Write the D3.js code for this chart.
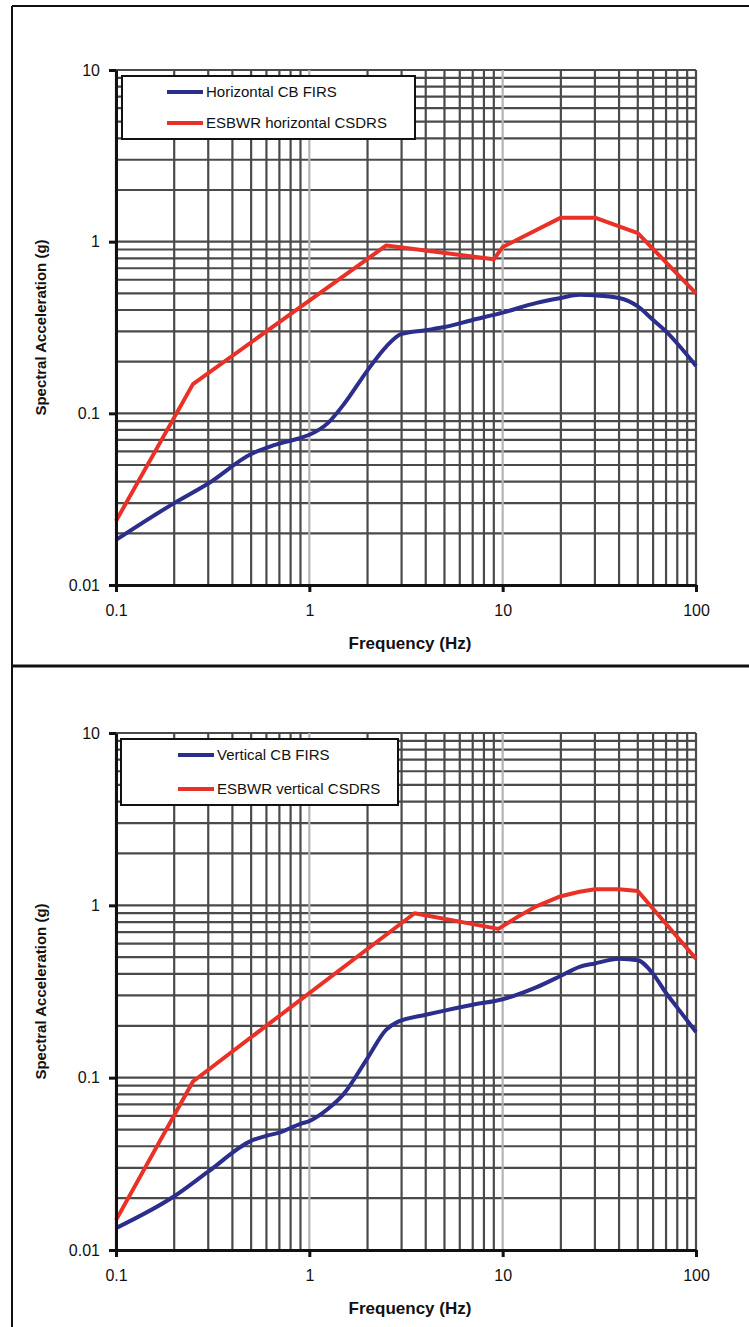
<!DOCTYPE html>
<html>
<head>
<meta charset="utf-8">
<script src="https://cdn.jsdelivr.net/npm/d3@7"></script>
<style>
  html, body { margin: 0; padding: 0; background: #fff; }
  svg { display: block; }
  text { font-family: "Liberation Sans", Arial, sans-serif; fill: #111; }
</style>
</head>
<body>
<svg id="chart" width="749" height="1327"></svg>
<script>
// Axis ticks
const freqTicks = [0.1, 1, 10, 100];
const accelTicks = [0.01, 0.1, 1, 10];

// Horizontal response spectra
const horizCbFreq  = [0.1, 0.2, 0.3, 0.5, 0.65, 0.9, 1.0, 1.25, 1.5, 2.0, 2.5, 3.0, 4.0, 5.0, 7.0, 10, 15, 20, 25, 30, 40, 50, 60, 70, 80, 100];
const horizCbAccel = [0.0183, 0.030, 0.039, 0.058, 0.065, 0.072, 0.075, 0.088, 0.112, 0.178, 0.245, 0.29, 0.305, 0.318, 0.35, 0.386, 0.44, 0.47, 0.49, 0.487, 0.47, 0.42, 0.35, 0.30, 0.255, 0.189];
const horizEsbwrFreq  = [0.1, 0.25, 2.5, 9, 10, 20, 30, 50, 100];
const horizEsbwrAccel = [0.0236, 0.148, 0.95, 0.79, 0.93, 1.38, 1.38, 1.12, 0.5];

// Vertical response spectra
const vertCbFreq  = [0.1, 0.2, 0.3, 0.5, 0.6, 0.7, 0.9, 1.0, 1.25, 1.5, 2.0, 2.5, 2.85, 3.0, 4.0, 5.0, 7.0, 10, 15, 20, 25, 30, 40, 50, 60, 70, 80, 100];
const vertCbAccel = [0.0134, 0.0205, 0.0285, 0.043, 0.046, 0.048, 0.054, 0.056, 0.066, 0.08, 0.13, 0.19, 0.21, 0.215, 0.232, 0.245, 0.265, 0.285, 0.335, 0.39, 0.44, 0.46, 0.49, 0.48, 0.40, 0.31, 0.255, 0.184];
const vertEsbwrFreq  = [0.1, 0.25, 3.5, 9.5, 12, 15, 20, 25, 30, 40, 50, 100];
const vertEsbwrAccel = [0.0149, 0.095, 0.90, 0.73, 0.86, 0.99, 1.13, 1.2, 1.24, 1.24, 1.21, 0.49];

const BLUE = "#2b2e8c";
const RED = "#ea3127";
const GRID = "#4a4a4a";
const GRID_DECADE = "#b4b4b4";

const svg = d3.select("#chart");
svg.append("rect").attr("width", 749).attr("height", 1327).attr("fill", "#fff");

// page frame: outer border and divider between the two panels
const frame = svg.append("g").attr("fill", "none").attr("stroke", "#111");
frame.append("line").attr("x1", 12).attr("y1", 6).attr("x2", 12).attr("y2", 1327).attr("stroke-width", 2);
frame.append("line").attr("x1", 12).attr("y1", 6).attr("x2", 749).attr("y2", 6).attr("stroke-width", 2);
frame.append("line").attr("x1", 12).attr("y1", 666).attr("x2", 749).attr("y2", 666).attr("stroke-width", 3);

const zip = (xs, ys) => xs.map((f, i) => [f, ys[i]]);

function minorValues(lo, hi) {
  const out = [];
  for (let d = lo; d < hi * 0.999; d *= 10) {
    for (let k = 1; k <= 9; k++) out.push(+(d * k).toPrecision(3));
  }
  out.push(hi);
  return out;
}

function drawPanel(cfg) {
  const g = svg.append("g");
  const x = d3.scaleLog().domain([0.1, 100]).range([116, 696]);
  const y = d3.scaleLog().domain([0.01, 10]).range([cfg.bottom, cfg.top]);

  // grid
  const xs = minorValues(0.1, 100);
  const ys = minorValues(0.01, 10);
  g.append("g").selectAll("line").data(ys).join("line")
    .attr("x1", 116).attr("x2", 696)
    .attr("y1", d => y(d)).attr("y2", d => y(d))
    .attr("stroke", GRID).attr("stroke-width", 2.2);
  g.append("g").selectAll("line").data(xs).join("line")
    .attr("x1", d => x(d)).attr("x2", d => x(d))
    .attr("y1", cfg.top).attr("y2", cfg.bottom)
    .attr("stroke", d => (d === 1 || d === 10) ? GRID_DECADE : GRID)
    .attr("stroke-width", 2.2);

  // series
  const line = d3.line().x(d => x(d[0])).y(d => y(d[1]));
  g.append("path").datum(zip(cfg.redF, cfg.redA))
    .attr("d", line).attr("fill", "none").attr("stroke", RED)
    .attr("stroke-width", 4).attr("stroke-linejoin", "round");
  g.append("path").datum(zip(cfg.blueF, cfg.blueA))
    .attr("d", line.curve(d3.curveMonotoneX)).attr("fill", "none").attr("stroke", BLUE)
    .attr("stroke-width", 4).attr("stroke-linejoin", "round");

  // axes
  const fmt = d => String(d);
  const ax = g.append("g").attr("transform", `translate(0,${cfg.bottom})`)
    .call(d3.axisBottom(x).tickValues(freqTicks).tickFormat(fmt).tickSize(7).tickSizeOuter(0).tickPadding(13));
  const ay = g.append("g").attr("transform", "translate(116,0)")
    .call(d3.axisLeft(y).tickValues(accelTicks).tickFormat(fmt).tickSize(7).tickSizeOuter(0).tickPadding(9));
  [ax, ay].forEach(a => {
    a.select(".domain").attr("stroke", "#111").attr("stroke-width", 3);
    a.selectAll(".tick line").attr("stroke", "#111").attr("stroke-width", 3);
    a.selectAll(".tick text").attr("font-size", 16)
      .attr("font-family", "'Liberation Sans', Arial, sans-serif").attr("fill", "#111");
  });

  // axis titles
  g.append("text").attr("x", 410).attr("y", cfg.bottom + 64)
    .attr("text-anchor", "middle").attr("font-size", 17).attr("font-weight", "bold")
    .text("Frequency (Hz)");
  g.append("text")
    .attr("transform", `translate(46,${(cfg.top + cfg.bottom) / 2}) rotate(-90)`)
    .attr("text-anchor", "middle").attr("font-size", 15).attr("font-weight", "bold")
    .text("Spectral Acceleration (g)");

  // legend
  const lg = g.append("g");
  lg.append("rect").attr("x", cfg.legend.x).attr("y", cfg.legend.y)
    .attr("width", cfg.legend.w).attr("height", cfg.legend.h)
    .attr("fill", "#fff").attr("stroke", "#111").attr("stroke-width", 2);
  const items = [
    { label: cfg.blueLabel, color: BLUE, dy: cfg.legend.row1 },
    { label: cfg.redLabel, color: RED, dy: cfg.legend.row2 }
  ];
  items.forEach(it => {
    lg.append("line").attr("x1", cfg.legend.lx1).attr("x2", cfg.legend.lx2)
      .attr("y1", it.dy).attr("y2", it.dy)
      .attr("stroke", it.color).attr("stroke-width", 4);
    lg.append("text").attr("x", cfg.legend.lx2 + 3).attr("y", it.dy + 5)
      .attr("font-size", 15).text(it.label);
  });
}

drawPanel({
  top: 70, bottom: 585,
  blueF: horizCbFreq, blueA: horizCbAccel,
  redF: horizEsbwrFreq, redA: horizEsbwrAccel,
  blueLabel: "Horizontal CB FIRS", redLabel: "ESBWR horizontal CSDRS",
  legend: { x: 122, y: 76, w: 293, h: 63, row1: 92, row2: 123, lx1: 167, lx2: 203 }
});

drawPanel({
  top: 733, bottom: 1250,
  blueF: vertCbFreq, blueA: vertCbAccel,
  redF: vertEsbwrFreq, redA: vertEsbwrAccel,
  blueLabel: "Vertical CB FIRS", redLabel: "ESBWR vertical CSDRS",
  legend: { x: 121, y: 739, w: 277, h: 66, row1: 755, row2: 789, lx1: 178, lx2: 214 }
});
</script>
</body>
</html>
